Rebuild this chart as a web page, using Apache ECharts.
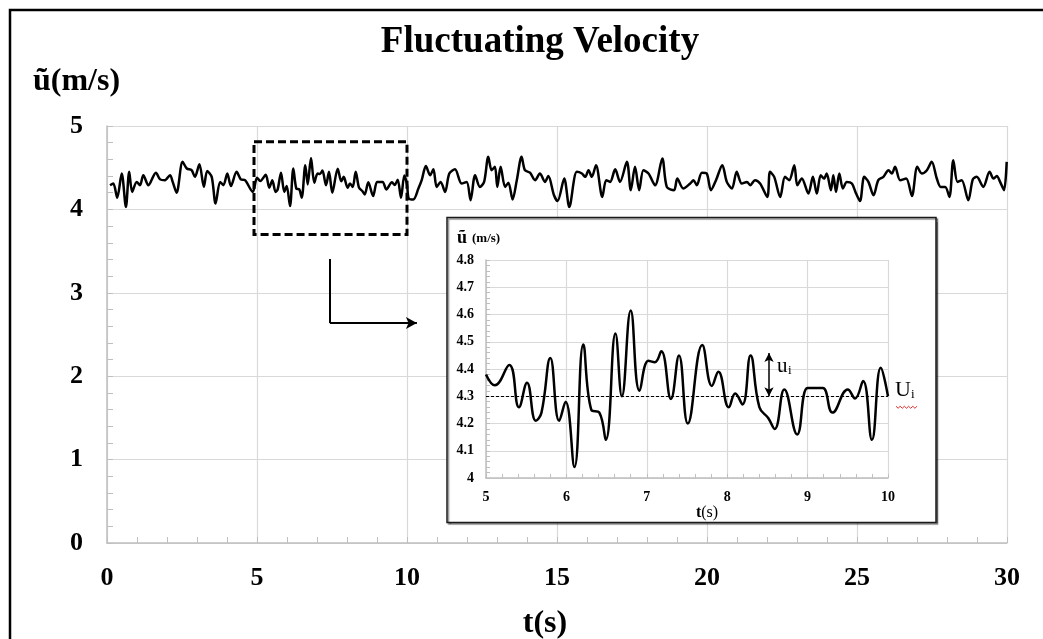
<!DOCTYPE html>
<html><head><meta charset="utf-8">
<script src="https://cdn.jsdelivr.net/npm/echarts@6/dist/echarts.min.js"></script>
<style>html,body{margin:0;padding:0;background:#fff}#c{width:1043px;height:639px}</style>
</head><body><div id="c"></div>
<script>
// ---- data ----
const mainTimeA = [0.1,0.21,0.34,0.49,0.63,0.74,0.84,0.99,1.1,1.21,1.38,1.63,1.77,1.93,2.1,2.19,2.32,2.52,2.66,2.82,2.93,3.08,3.23,3.34,3.49,3.62,3.77,3.88,4.01,4.13,4.32,4.46,4.6,4.86];
const mainVelA  = [4.29,4.31,4.14,4.43,4.03,4.45,4.21,4.33,4.29,4.41,4.29,4.44,4.36,4.35,4.41,4.33,4.2,4.57,4.49,4.47,4.39,4.54,4.27,4.46,4.39,4.07,4.33,4.29,4.43,4.28,4.45,4.36,4.35,4.21];

const insetTime = [5.0,5.11,5.29,5.41,5.51,5.62,5.69,5.8,5.91,5.99,6.1,6.21,6.31,6.41,6.49,6.61,6.69,6.8,6.91,7.02,7.1,7.18,7.3,7.4,7.51,7.69,7.81,7.89,8.02,8.1,8.19,8.29,8.4,8.51,8.59,8.71,8.87,9.0,9.1,9.19,9.31,9.5,9.59,9.69,9.8,9.91,10.0];
const insetVel  = [4.38,4.34,4.415,4.26,4.35,4.21,4.24,4.44,4.21,4.28,4.04,4.49,4.25,4.24,4.14,4.53,4.30,4.615,4.32,4.43,4.425,4.465,4.29,4.45,4.20,4.488,4.338,4.39,4.26,4.31,4.27,4.45,4.26,4.22,4.18,4.325,4.16,4.33,4.33,4.33,4.24,4.325,4.292,4.356,4.14,4.405,4.30];

const mainTimeB = [10.06,10.21,10.38,10.49,10.63,10.77,10.88,10.99,11.12,11.27,11.41,11.6,11.82,11.99,12.12,12.27,12.43,12.57,12.71,12.82,12.93,13.01,13.12,13.27,13.38,13.52,13.66,13.82,13.93,14.1,14.27,14.43,14.6,14.71,14.9,15.02,15.24,15.41,15.66,15.83,15.94,16.05,16.16,16.3,16.51,16.64,16.77,16.94,17.1,17.33,17.46,17.6,17.74,17.88,18.05,18.27,18.51,18.66,18.9,19.01,19.21,19.44,19.55,19.66,19.83,19.99,20.13,20.3,20.51,20.66,20.83,20.99,21.16,21.33,21.44,21.6,21.77,22.01,22.1,22.24,22.44,22.6,22.74,22.91,23.01,23.16,23.38,23.53,23.66,23.79,23.9,23.99,24.13,24.21,24.3,24.41,24.53,24.66,24.83,24.97,25.1,25.24,25.38,25.55,25.71,25.88,26.05,26.16,26.27,26.44,26.64,26.83,27.01,27.16,27.33,27.49,27.66,27.79,27.94,28.08,28.21,28.35,28.49,28.71,28.86,28.99,29.21,29.42,29.55,29.66,29.77,29.9,29.99];
const mainVelB  = [4.13,4.12,4.25,4.35,4.52,4.41,4.48,4.27,4.33,4.21,4.43,4.48,4.31,4.33,4.11,4.41,4.27,4.33,4.63,4.47,4.51,4.27,4.51,4.27,4.32,4.12,4.35,4.63,4.47,4.44,4.35,4.43,4.33,4.40,4.17,4.10,4.37,4.03,4.45,4.43,4.39,4.47,4.39,4.53,4.15,4.35,4.33,4.48,4.33,4.57,4.23,4.51,4.23,4.47,4.43,4.29,4.61,4.27,4.23,4.37,4.25,4.31,4.35,4.29,4.44,4.43,4.23,4.35,4.53,4.33,4.25,4.45,4.31,4.33,4.29,4.35,4.31,4.15,4.45,4.39,4.15,4.39,4.35,4.53,4.29,4.37,4.19,4.39,4.19,4.41,4.37,4.43,4.23,4.41,4.21,4.43,4.25,4.33,4.31,4.19,4.10,4.39,4.33,4.17,4.35,4.39,4.47,4.43,4.51,4.35,4.37,4.16,4.51,4.43,4.47,4.57,4.37,4.27,4.27,4.15,4.59,4.33,4.35,4.11,4.36,4.39,4.27,4.45,4.37,4.40,4.33,4.23,4.57];

// annotation values
const meanVel = 4.3;          // U_i level in inset
const fluctTime = 8.52;       // position of u_i arrow
const fluctTop = 4.459;
const boxX = [4.9, 10], boxY = [3.7, 4.81];
const mainXTicks = {min: 0, max: 30, step: 5};
const mainYTicks = {min: 0, max: 5, step: 1};
const insetXTicks = {min: 5, max: 10, step: 1};
const insetYTicks = {min: 4, max: 4.8, step: 0.1};

// ---- build series tables ----
const zip = (t, v) => t.map((x, i) => [x, v[i]]);
const mainData = zip(mainTimeA, mainVelA).concat(zip(insetTime, insetVel), zip(mainTimeB, mainVelB));
const insetData = zip(insetTime, insetVel);

const FONT = 'Liberation Serif';
const gridGray = '#d9d9d9', axisGray = '#bfbfbf';

const chart = echarts.init(document.getElementById('c'));

function axisCommon(fs, margin, tickLen) {
  return {
    axisLine: {show: true, onZero: false, lineStyle: {color: axisGray, width: 1.5}},
    axisTick: {show: true, inside: true, length: tickLen, lineStyle: {color: axisGray}},
    minorTick: {show: true, splitNumber: 5, length: tickLen, lineStyle: {color: axisGray}},
    splitLine: {show: true, lineStyle: {color: gridGray, width: 1.2}},
    axisLabel: {fontFamily: FONT, fontWeight: 'bold', fontSize: fs, color: '#000', margin: margin}
  };
}

chart.setOption({
  animation: false,
  grid: [
    {left: 107, top: 126, width: 900, height: 417},
    {left: 486, top: 260, width: 402, height: 218}
  ],
  xAxis: [
    Object.assign({type: 'value', gridIndex: 0, min: mainXTicks.min, max: mainXTicks.max, interval: mainXTicks.step}, axisCommon(26, 22, 6)),
    Object.assign({type: 'value', gridIndex: 1, z: 3, min: insetXTicks.min, max: insetXTicks.max, interval: insetXTicks.step}, axisCommon(14, 12, 4))
  ],
  yAxis: [
    Object.assign({type: 'value', gridIndex: 0, min: mainYTicks.min, max: mainYTicks.max, interval: mainYTicks.step}, axisCommon(26, 24, 6)),
    Object.assign({type: 'value', gridIndex: 1, z: 3, min: insetYTicks.min, max: insetYTicks.max, interval: insetYTicks.step}, axisCommon(14, 12, 4))
  ],
  series: [
    {
      type: 'line', xAxisIndex: 0, yAxisIndex: 0, z: 2,
      data: mainData, showSymbol: false, symbol: 'none', smooth: 0.3,
      lineStyle: {color: '#000', width: 2.5},
      markArea: {
        silent: true,
        itemStyle: {color: 'rgba(0,0,0,0)', borderColor: '#000', borderWidth: 3, borderType: [8, 4]},
        data: [[{xAxis: boxX[0], yAxis: boxY[1]}, {xAxis: boxX[1], yAxis: boxY[0]}]]
      },
      markLine: {
        silent: true, symbol: 'none', label: {show: false},
        lineStyle: {color: '#000', width: 2, type: 'solid'},
        data: [
          [{coord: [7.43, 3.405], symbol: 'none'}, {coord: [7.43, 2.638], symbol: 'none'}],
          [{coord: [7.43, 2.638], symbol: 'none'}, {coord: [10.33, 2.638], symbol: 'arrow', symbolSize: [9, 11]}]
        ]
      }
    },
    {
      type: 'line', xAxisIndex: 1, yAxisIndex: 1, z: 4,
      data: insetData, showSymbol: false, symbol: 'none', smooth: 0.45,
      lineStyle: {color: '#000', width: 2.5},
      markLine: {
        silent: true, symbol: 'none', label: {show: false},
        data: [
          {yAxis: meanVel, lineStyle: {color: '#000', width: 1.2, type: [3, 2]}},
          [{coord: [fluctTime, meanVel], symbol: 'arrow', symbolSize: [7, 9]},
           {coord: [fluctTime, fluctTop], symbol: 'arrow', symbolSize: [7, 9], lineStyle: {color: '#000', width: 1.5, type: 'solid'}}]
        ]
      }
    }
  ]
});

const pU = chart.convertToPixel({gridIndex: 1}, [insetXTicks.max, meanVel]);
const pu = chart.convertToPixel({gridIndex: 1}, [fluctTime, meanVel]);

function txt(x, y, text, font, align, valign, extra) {
  return Object.assign({
    type: 'text', x: x, y: y, z: 10,
    style: {text: text, font: font, fill: '#000', align: align, verticalAlign: valign,
            textAlign: align, textVerticalAlign: valign}
  }, extra || {});
}

const wave = [];
for (let i = 0; i <= 10; i++) wave.push([pU[0] + 8 + i * 2.1, pU[1] + 10 + (i % 2 ? 2 : 0)]);

chart.setOption({
  graphic: [
    {type: 'rect', z: 0, shape: {x: 10, y: 10, width: 1100, height: 700},
     style: {fill: 'none', stroke: '#000', lineWidth: 2.5}},
    {type: 'rect', z: 1, shape: {x: 447, y: 217.5, width: 489, height: 305},
     style: {fill: '#fff', stroke: '#1a1a1a', lineWidth: 1.5,
             shadowColor: 'rgba(0,0,0,0.45)', shadowOffsetX: 1.5, shadowOffsetY: 1.5, shadowBlur: 1}},
    txt(540, 42, 'Fluctuating Velocity', 'bold 37px "Liberation Serif"', 'center', 'middle'),
    txt(33, 82, 'ũ(m/s)', 'bold 32px "Liberation Serif"', 'left', 'middle'),
    txt(545, 624, 't(s)', 'bold 32px "Liberation Serif"', 'center', 'middle'),
    txt(457, 238, 'ũ', 'bold 18px "Liberation Serif"', 'left', 'middle'),
    txt(472, 239, '(m/s)', 'bold 13px "Liberation Serif"', 'left', 'middle'),
    {type: 'text', x: 707, y: 513, z: 10,
     style: {text: '{b|t}{n|(s)}', align: 'center', verticalAlign: 'middle', textAlign: 'center', textVerticalAlign: 'middle',
             rich: {b: {font: 'bold 16px "Liberation Serif"', fill: '#000', color: '#000'},
                    n: {font: '16px "Liberation Serif"', fill: '#000', color: '#000'}}}},
    txt(pU[0] + 7, pU[1] + 5, 'U', '22px "Liberation Serif"', 'left', 'bottom'),
    txt(pU[0] + 23, pU[1] + 5, 'i', '13px "Liberation Serif"', 'left', 'bottom'),
    {type: 'polyline', z: 10, shape: {points: wave}, style: {stroke: '#e03030', lineWidth: 1, fill: 'none'}},
    txt(pu[0] + 8, pu[1] - 19, 'u', '21px "Liberation Serif"', 'left', 'bottom'),
    txt(pu[0] + 19, pu[1] - 19, 'i', '13px "Liberation Serif"', 'left', 'bottom')
  ]
});
</script></body></html>
